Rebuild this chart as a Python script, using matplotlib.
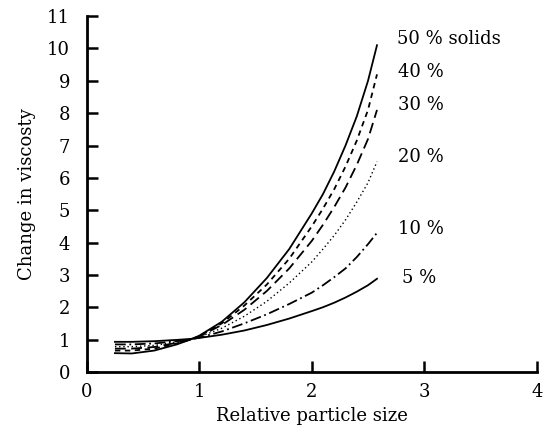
import matplotlib.pyplot as plt

plt.rcParams['font.family'] = ['DejaVu Serif']

# relative particle size
size = [0.25, 0.4, 0.6, 0.8, 0.92, 1.0, 1.2, 1.4, 1.6, 1.8,
        2.0, 2.1, 2.2, 2.3, 2.4, 2.5, 2.58]

# change in viscosity for each solids concentration
visc_50 = [0.58, 0.57, 0.66, 0.85, 1.0, 1.12, 1.55, 2.15, 2.9, 3.8,
           4.9, 5.5, 6.2, 7.0, 7.9, 9.0, 10.1]
visc_40 = [0.66, 0.66, 0.72, 0.88, 1.0, 1.10, 1.50, 2.05, 2.7, 3.5,
           4.5, 5.05, 5.65, 6.35, 7.15, 8.1, 9.2]
visc_30 = [0.72, 0.72, 0.77, 0.90, 1.0, 1.10, 1.45, 1.92, 2.5, 3.2,
           4.05, 4.55, 5.1, 5.7, 6.4, 7.2, 8.1]
visc_20 = [0.78, 0.78, 0.82, 0.93, 1.0, 1.08, 1.35, 1.72, 2.18, 2.75,
           3.4, 3.8, 4.22, 4.7, 5.25, 5.85, 6.5]
visc_10 = [0.85, 0.85, 0.88, 0.95, 1.0, 1.06, 1.25, 1.50, 1.78, 2.1,
           2.45, 2.68, 2.93, 3.2, 3.55, 3.95, 4.3]
visc_5 = [0.93, 0.93, 0.95, 0.99, 1.02, 1.05, 1.15, 1.28, 1.45, 1.65,
          1.88, 2.0, 2.14, 2.3, 2.48, 2.68, 2.88]

labels = ['50 % solids', '40 %', '30 %', '20 %', '10 %', '5 %']
label_x = [2.76, 2.77, 2.77, 2.77, 2.77, 2.80]
label_y = [10.3, 9.26, 8.24, 6.64, 4.41, 2.9]

series = [visc_50, visc_40, visc_30, visc_20, visc_10, visc_5]
styles = ['-', (0, (3, 2.5)), (0, (6, 3)), (0, (1, 2)), (0, (6, 2, 1, 2)), '-']

fig = plt.figure(figsize=(5.46, 4.36), dpi=100)
ax = fig.add_axes([0.159, 0.147, 0.824, 0.816])

for vals, ls in zip(series, styles):
    lw = 1.0 if ls == (0, (1, 2)) else 1.3
    ax.plot(size, vals, color='black', linestyle=ls, linewidth=lw)

for txt, lx, ly in zip(labels, label_x, label_y):
    ax.text(lx, ly, txt, fontsize=13, va='center', ha='left')

ax.set_xlim(0, 4)
ax.set_ylim(0, 11)
ax.set_xticks(range(0, 5))
ax.set_yticks(range(0, 12))
ax.spines['top'].set_visible(False)
ax.spines['right'].set_visible(False)
ax.spines['left'].set_linewidth(2)
ax.spines['bottom'].set_linewidth(2)
ax.tick_params(direction='in', length=8, width=1.8, labelsize=13)
ax.tick_params(axis='y', pad=12)
ax.tick_params(axis='x', pad=8)

ax.set_xlabel('Relative particle size', fontsize=13, labelpad=4)
ax.set_ylabel('Change in viscosty', fontsize=13, labelpad=8)

fig.savefig('out.png', dpi=100)
